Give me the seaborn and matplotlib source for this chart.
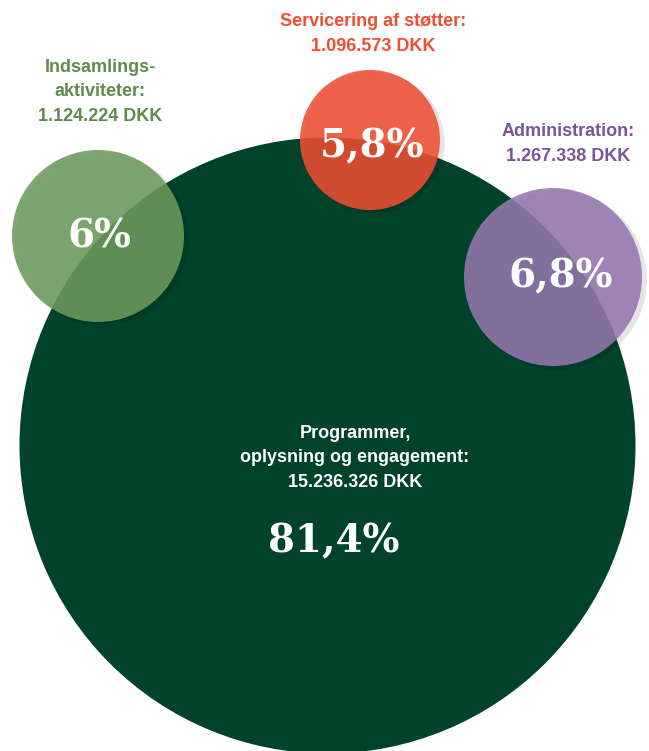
import numpy as np
import pandas as pd
import matplotlib.pyplot as plt
import seaborn as sns

# Data
categories = ['Programmer, oplysning og engagement', 'Indsamlingsaktiviteter',
              'Servicering af støtter', 'Administration']
amounts = ['15.236.326 DKK', '1.124.224 DKK', '1.096.573 DKK', '1.267.338 DKK']
shares = ['81,4%', '6%', '5,8%', '6,8%']
labels = ['Programmer,\noplysning og engagement:', 'Indsamlings-\naktiviteter:',
          'Servicering af støtter:', 'Administration:']

# Layout (pixel coordinates of bubble centres and radii)
cx = [327, 98, 370, 553]
cy = [445, 236, 140, 277]
radius = [308, 86, 70, 89]
fill = ['#00432a', '#6d9a5c', '#ef4e33', '#9577b0']
text_col = ['white', '#5e8c4a', '#ef4e33', '#7a559a']

W, H, DPI = 649, 751, 100
df = pd.DataFrame({'cat': categories, 'x': cx, 'y': cy, 'r': radius})
# marker area in pt^2 from diameter in pixels
df['s'] = (2 * df['r'] * 72 / DPI) ** 2

sns.set_style('white')
fig = plt.figure(figsize=(W / DPI, H / DPI), dpi=DPI)
ax = fig.add_axes([0, 0, 1, 1])

# soft shadow for small bubbles
sh = df.iloc[1:].copy()
sh['x'] = sh['x'] + 4
sh['y'] = sh['y'] + 3
ax.scatter(sh['x'], sh['y'], s=sh['s'] * 1.02, color='#000000', alpha=0.10, linewidth=0, zorder=1)

pal = dict(zip(categories, fill))
sns.scatterplot(data=df.iloc[:1], x='x', y='y', hue='cat', palette=pal,
                s=df['s'].iloc[:1].values, linewidth=0, legend=False, ax=ax, zorder=0)
sns.scatterplot(data=df.iloc[1:], x='x', y='y', hue='cat', palette=pal,
                s=df['s'].iloc[1:].values, linewidth=0, alpha=0.88, legend=False, ax=ax, zorder=2)

ax.set_xlim(0, W)
ax.set_ylim(H, 0)
ax.set_aspect('equal')
ax.axis('off')

sans = 'Liberation Sans'
serif = 'DejaVu Serif'
kw = dict(ha='center', va='center', fontsize=13, fontweight='bold', family=sans,
          linespacing=1.55, zorder=5)

# Category labels
ax.text(355, 458, labels[0] + '\n' + amounts[0], color=text_col[0], **kw)
ax.text(100, 92, labels[1] + '\n' + amounts[1], color=text_col[1], **kw)
ax.text(373, 34, labels[2] + '\n' + amounts[2], color=text_col[2], **kw)
ax.text(568, 144, labels[3] + '\n' + amounts[3], color=text_col[3], **kw)

# Percentages
pct_pos = [(334, 541), (100, 237), (372, 146), (561, 276)]
for (px, py), p in zip(pct_pos, shares):
    ax.text(px, py, p, color='white', ha='center', va='center', fontsize=28,
            fontweight='bold', family=serif, zorder=5)

fig.savefig('out.png', dpi=DPI)
